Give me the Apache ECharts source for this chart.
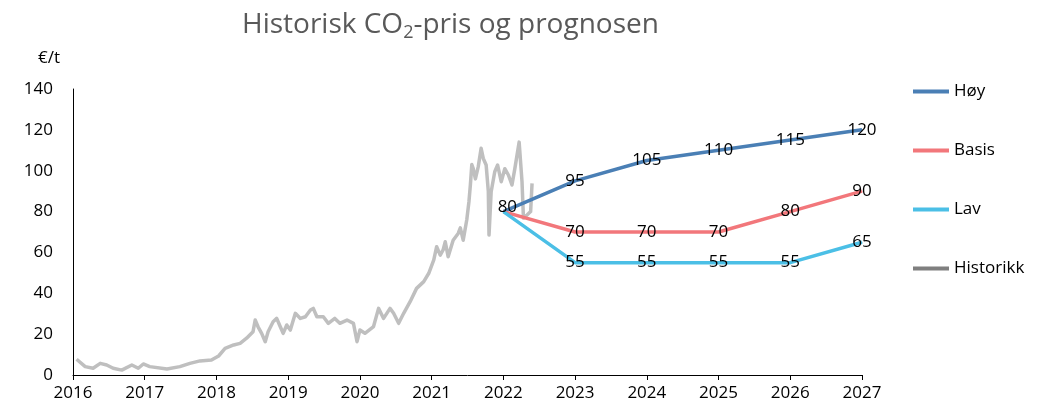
<!DOCTYPE html>
<html lang="no" style="height: 100%">

<head>
    <meta charset="utf-8" />
    <script src="https://cdn.jsdelivr.net/npm/echarts@6/dist/echarts.min.js"></script>
</head>

<body style="height: 100%; margin: 0; background: #fff">
    <div id="container" style="width: 1040px;height: 410px;"></div>
    <script type="text/javascript">
        var dom = document.getElementById('container');
        var myChart = echarts.init(dom, null, {
            renderer: 'canvas'
        });

        // x-aksen: årstall
        const years = [2016, 2017, 2018, 2019, 2020, 2021, 2022, 2023, 2024, 2025, 2026, 2027];
        const yTicks = [0, 20, 40, 60, 80, 100, 120, 140];

        // prognoser, ett punkt per år
        const forecastYears = [2022, 2023, 2024, 2025, 2026, 2027];
        const hoy = [80, 95, 105, 110, 115, 120];
        const basis = [80, 70, 70, 70, 80, 90];
        const lav = [80, 55, 55, 55, 55, 65];

        // historisk pris (år som desimaltall), lest av fra bildet
        const histTime = [
            2016.05, 2016.17, 2016.28, 2016.38, 2016.47, 2016.56, 2016.68, 2016.82, 2016.91, 2016.98,
            2017.07, 2017.31, 2017.49, 2017.63, 2017.77, 2017.93, 2018.03, 2018.12, 2018.24, 2018.33,
            2018.42, 2018.51, 2018.54, 2018.58, 2018.63, 2018.68, 2018.72, 2018.79, 2018.84, 2018.89,
            2018.93, 2018.98, 2019.03, 2019.10, 2019.17, 2019.24, 2019.31, 2019.35, 2019.40, 2019.49,
            2019.56, 2019.65, 2019.72, 2019.82, 2019.91, 2019.96, 2020.00, 2020.07, 2020.19, 2020.26,
            2020.33, 2020.42, 2020.47, 2020.54, 2020.61, 2020.70, 2020.79, 2020.89, 2020.96, 2021.03,
            2021.07, 2021.12, 2021.16, 2021.19, 2021.23, 2021.30, 2021.37, 2021.40, 2021.44, 2021.49,
            2021.52, 2021.54, 2021.56, 2021.58, 2021.61, 2021.65, 2021.69, 2021.72, 2021.76, 2021.79,
            2021.80, 2021.83, 2021.88, 2021.92, 2021.97, 2022.02, 2022.07, 2022.12, 2022.16, 2022.22,
            2022.26, 2022.28, 2022.33, 2022.38, 2022.40
        ];
        const histPrice = [
            7.7, 4.1, 3.3, 5.7, 4.9, 3.3, 2.4, 4.9, 3.3, 5.4,
            4.1, 2.9, 4.1, 5.7, 6.9, 7.3, 9.3, 13, 14.7, 15.5,
            18, 21.2, 26.9, 23.6, 20.4, 16.3, 21.2, 26.1, 27.7, 23.6,
            20.4, 24.5, 22, 30.2, 27.7, 28.5, 31.8, 32.6, 28.5, 28.5,
            25.3, 27.7, 25.3, 26.9, 25.3, 16.3, 22, 20.4, 23.7, 32.6,
            27.7, 32.6, 30.2, 25.3, 30.2, 35.9, 42.4, 45.7, 49.8, 56.3,
            62.8, 58.7, 61.2, 65.2, 57.9, 66, 69.3, 72, 66, 76,
            84.8, 93, 103, 101, 96, 102, 111, 106, 102.8, 90,
            68.5, 89.7, 99.5, 102.8, 94.6, 101, 97.9, 93, 101, 114,
            94.6, 76.8, 78.3, 80, 93.8
        ];

        const colors = ['#4a7fb5', '#f2777b', '#4bbfe6', '#bfbfbf'];
        const font = 'Open Sans';

        function pairs(xs, ys, hideFirst) {
            return xs.map(function (x, i) {
                const d = { value: [x, ys[i]] };
                if (hideFirst && i === 0) d.label = { show: false };
                return d;
            });
        }

        function forecast(name, values, color, hideFirst) {
            const data = pairs(forecastYears, values, hideFirst);
            if (!hideFirst) data[0].label = { offset: [4, -4] };
            return {
                name: name,
                type: 'line',
                data: data,
                symbol: 'circle',
                symbolSize: 1,
                z: 3,
                lineStyle: { color: color, width: 3.5 },
                itemStyle: { color: color },
                label: {
                    show: true,
                    position: 'inside',
                    color: '#000',
                    fontFamily: font,
                    fontSize: 17,
                    formatter: function (p) { return p.value[1]; }
                },
                emphasis: { disabled: true }
            };
        }

        var option = {
            backgroundColor: '#fff',
            animation: false,
            title: {
                text: 'Historisk CO{sub|2}-pris og prognosen',
                left: 237,
                top: 4,
                textStyle: {
                    fontFamily: font,
                    fontSize: 28,
                    fontWeight: 'normal',
                    color: '#595959',
                    rich: {
                        sub: {
                            fontFamily: font,
                            fontSize: 18,
                            color: '#595959',
                            verticalAlign: 'bottom',
                            padding: [15, 0, 0, 0]
                        }
                    }
                }
            },
            legend: {
                orient: 'vertical',
                left: 908,
                top: 78,
                itemGap: 42,
                itemWidth: 36,
                itemHeight: 4,
                icon: 'rect',
                textStyle: { fontFamily: font, fontSize: 17, color: '#000' },
                data: [
                    { name: 'Høy', itemStyle: { color: colors[0] } },
                    { name: 'Basis', itemStyle: { color: colors[1] } },
                    { name: 'Lav', itemStyle: { color: colors[2] } },
                    { name: 'Historikk', itemStyle: { color: '#7f7f7f' } }
                ]
            },
            grid: {
                left: 73,
                right: 178,
                top: 89,
                bottom: 35
            },
            xAxis: {
                type: 'value',
                min: years[0],
                max: years[years.length - 1],
                interval: 1,
                axisLine: { lineStyle: { color: '#000', width: 1 } },
                axisTick: { show: true, length: 5, lineStyle: { color: '#000' } },
                splitLine: { show: false },
                axisLabel: {
                    color: '#000',
                    fontFamily: font,
                    fontSize: 17,
                    margin: 10,
                    formatter: function (v) { return String(v); }
                }
            },
            yAxis: {
                type: 'value',
                min: yTicks[0],
                max: yTicks[yTicks.length - 1],
                interval: 20,
                name: '€/t',
                nameLocation: 'end',
                nameGap: 22,
                nameTextStyle: {
                    color: '#000',
                    fontFamily: font,
                    fontSize: 17,
                    align: 'right',
                    padding: [0, 13, 0, 0]
                },
                axisLine: { show: true, lineStyle: { color: '#000', width: 1 } },
                axisTick: { show: false },
                splitLine: { show: false },
                axisLabel: {
                    color: '#000',
                    fontFamily: font,
                    fontSize: 17,
                    margin: 20
                }
            },
            series: [
                {
                    name: 'Historikk',
                    type: 'line',
                    data: pairs(histTime, histPrice, false),
                    symbol: 'none',
                    z: 2,
                    lineStyle: { color: colors[3], width: 3.5, join: 'round' },
                    itemStyle: { color: colors[3] },
                    emphasis: { disabled: true }
                },
                forecast('Høy', hoy, colors[0], false),
                forecast('Basis', basis, colors[1], true),
                forecast('Lav', lav, colors[2], true)
            ]
        };

        if (option && typeof option === 'object') {
            myChart.setOption(option);
        }

        window.addEventListener('resize', myChart.resize);
    </script>
</body>

</html>
